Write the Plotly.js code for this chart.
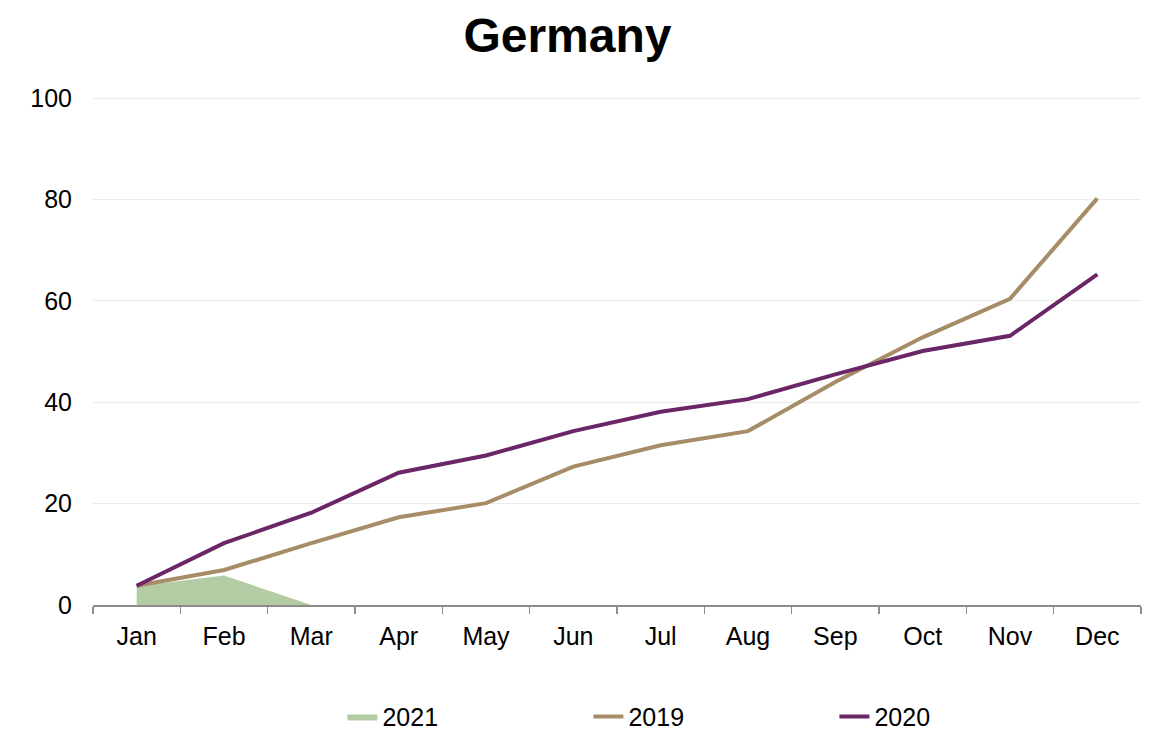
<!DOCTYPE html>
<html>
<head>
<meta charset="utf-8">
<script src="https://cdn.plot.ly/plotly-3.0.1.min.js"></script>
<style>html,body{margin:0;padding:0;background:#fff;}#chart{width:1151px;height:733px;}</style>
</head>
<body>
<div id="chart"></div>
<script>
const months = ["Jan","Feb","Mar","Apr","May","Jun","Jul","Aug","Sep","Oct","Nov","Dec"];
const months2021 = ["Jan","Feb","Mar"];
const values2021 = [3.7, 5.8, 0];
const values2019 = [3.8, 6.9, 12.2, 17.3, 20.1, 27.3, 31.5, 34.3, 44.0, 52.8, 60.4, 80.2];
const values2020 = [3.8, 12.2, 18.2, 26.1, 29.5, 34.3, 38.1, 40.6, 45.5, 50.1, 53.1, 65.2];
const yTicks = [0, 20, 40, 60, 80, 100];

const traces = [
  {x: months2021, y: values2021, name: "2021", type: "scatter", mode: "lines",
   fill: "tozeroy", fillcolor: "#B3CCA3", line: {width: 0, color: "#B3CCA3"}},
  {x: months, y: values2019, name: "2019", type: "scatter", mode: "lines",
   line: {width: 4, color: "#A68C67"}},
  {x: months, y: values2020, name: "2020", type: "scatter", mode: "lines",
   line: {width: 4, color: "#6B2668"}}
];

const layout = {
  width: 1151, height: 733,
  margin: {l: 93, r: 10, t: 97, b: 128, autoexpand: false},
  paper_bgcolor: "#fff", plot_bgcolor: "#fff",
  font: {family: "Liberation Sans, Arial, sans-serif", size: 25, color: "#000"},
  title: {text: "<b>Germany</b>", x: 0.493, xanchor: "center", y: 0.952, yanchor: "middle",
          font: {size: 48, color: "#000", family: "Liberation Sans, Arial, sans-serif"}},
  xaxis: {type: "category", categoryorder: "array", categoryarray: months,
          range: [-0.5, 11.5], showline: true, linecolor: "#8C8C8C", linewidth: 1.5,
          ticks: "outside", tickson: "boundaries", ticklen: 7, tickcolor: "#8C8C8C", tickwidth: 1.5,
          ticklabelstandoff: 8, automargin: false,
          showgrid: false, tickfont: {size: 25}, fixedrange: true},
  yaxis: {range: [0, 100.2], tickvals: yTicks, showgrid: true, gridcolor: "#EBEBEB", gridwidth: 1,
          zeroline: false, showline: false, ticks: "", ticklabelstandoff: 20, automargin: false,
          tickfont: {size: 25}, fixedrange: true},
  showlegend: true,
  legend: {orientation: "h", x: 0.238, xanchor: "left", yref: "container", y: 0.022, yanchor: "middle",
           entrywidth: 201, entrywidthmode: "pixels", font: {size: 25}, traceorder: "normal"}
};

Plotly.newPlot("chart", traces, layout, {displayModeBar: false, staticPlot: true});
</script>
</body>
</html>
